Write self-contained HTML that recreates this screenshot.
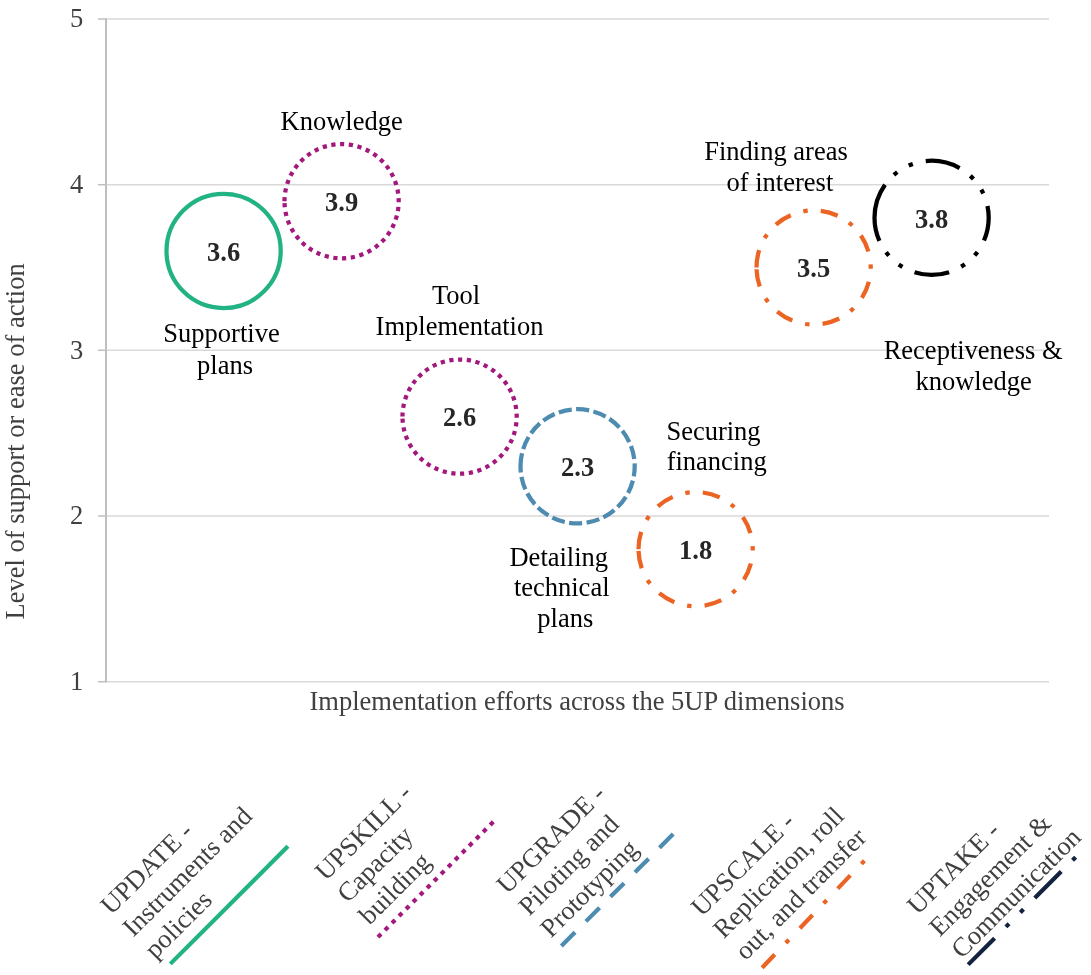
<!DOCTYPE html>
<html><head><meta charset="utf-8"><style>
html,body{margin:0;padding:0;background:#fff;width:1091px;height:975px;overflow:hidden;font-family:"Liberation Serif",serif;}
svg{display:block;will-change:transform;}
</style></head><body>
<svg width="1091" height="975" viewBox="0 0 1091 975">
<rect width="1091" height="975" fill="#fff"/>
<line x1="106" y1="19.0" x2="1049" y2="19.0" stroke="#d9d9d9" stroke-width="1.5"/>
<line x1="106" y1="184.7" x2="1049" y2="184.7" stroke="#d9d9d9" stroke-width="1.5"/>
<line x1="106" y1="350.3" x2="1049" y2="350.3" stroke="#d9d9d9" stroke-width="1.5"/>
<line x1="106" y1="516.0" x2="1049" y2="516.0" stroke="#d9d9d9" stroke-width="1.5"/>
<line x1="106" y1="681.7" x2="1049" y2="681.7" stroke="#d9d9d9" stroke-width="1.5"/>
<line x1="98" y1="19.0" x2="106" y2="19.0" stroke="#bfbfbf" stroke-width="1.5"/>
<line x1="98" y1="184.7" x2="106" y2="184.7" stroke="#bfbfbf" stroke-width="1.5"/>
<line x1="98" y1="350.3" x2="106" y2="350.3" stroke="#bfbfbf" stroke-width="1.5"/>
<line x1="98" y1="516.0" x2="106" y2="516.0" stroke="#bfbfbf" stroke-width="1.5"/>
<line x1="98" y1="681.7" x2="106" y2="681.7" stroke="#bfbfbf" stroke-width="1.5"/>
<line x1="106" y1="18.25" x2="106" y2="682.45" stroke="#bfbfbf" stroke-width="2"/>
<text x="76.5" y="27.3" text-anchor="middle" font-family="Liberation Serif" font-size="26.5" fill="#404040">5</text>
<text x="76.5" y="193.0" text-anchor="middle" font-family="Liberation Serif" font-size="26.5" fill="#404040">4</text>
<text x="76.5" y="358.6" text-anchor="middle" font-family="Liberation Serif" font-size="26.5" fill="#404040">3</text>
<text x="76.5" y="524.3" text-anchor="middle" font-family="Liberation Serif" font-size="26.5" fill="#404040">2</text>
<text x="76.5" y="690.0" text-anchor="middle" font-family="Liberation Serif" font-size="26.5" fill="#404040">1</text>
<text x="309.5" y="709.8" font-family="Liberation Serif" font-size="26.5" fill="#404040">Implementation efforts across the 5UP dimensions</text>
<text transform="translate(24.1,619.5) rotate(-90)" x="0" y="0" font-family="Liberation Serif" font-size="26.5" fill="#404040">Level of support or ease of action</text>
<circle cx="223.6" cy="250.945" r="57.1" fill="none" stroke="#22b384" stroke-width="4.25" transform="rotate(180 223.6 250.945)"/>
<text x="223.6" y="260.645" text-anchor="middle" font-family="Liberation Serif" font-weight="bold" font-size="26.5" fill="#262626">3.6</text>
<circle cx="341.6" cy="201.2425" r="57.1" fill="none" stroke="#a3187c" stroke-width="4.25" stroke-dasharray="4.2 4.6" transform="rotate(180 341.6 201.2425)"/>
<text x="341.6" y="210.9425" text-anchor="middle" font-family="Liberation Serif" font-weight="bold" font-size="26.5" fill="#262626">3.9</text>
<circle cx="459.6" cy="416.62" r="57.1" fill="none" stroke="#a3187c" stroke-width="4.25" stroke-dasharray="4.2 4.6" transform="rotate(180 459.6 416.62)"/>
<text x="459.6" y="426.32" text-anchor="middle" font-family="Liberation Serif" font-weight="bold" font-size="26.5" fill="#262626">2.6</text>
<circle cx="577.6" cy="466.32250000000005" r="57.1" fill="none" stroke="#4e8bb0" stroke-width="4.25" stroke-dasharray="13.2 4.4" transform="rotate(180 577.6 466.32250000000005)"/>
<text x="577.6" y="476.02250000000004" text-anchor="middle" font-family="Liberation Serif" font-weight="bold" font-size="26.5" fill="#262626">2.3</text>
<circle cx="695.6" cy="549.1600000000001" r="57.1" fill="none" stroke="#ec6424" stroke-width="4.25" stroke-dasharray="17.6 13.2 4.4 13.2" transform="rotate(180 695.6 549.1600000000001)"/>
<text x="695.6" y="558.8600000000001" text-anchor="middle" font-family="Liberation Serif" font-weight="bold" font-size="26.5" fill="#262626">1.8</text>
<circle cx="813.6" cy="267.51250000000005" r="57.1" fill="none" stroke="#ec6424" stroke-width="4.25" stroke-dasharray="17.6 13.2 4.4 13.2" transform="rotate(180 813.6 267.51250000000005)"/>
<text x="813.6" y="277.21250000000003" text-anchor="middle" font-family="Liberation Serif" font-weight="bold" font-size="26.5" fill="#262626">3.5</text>
<circle cx="931.6" cy="217.81000000000006" r="57.1" fill="none" stroke="#000000" stroke-width="4.25" stroke-dasharray="35.2 13.2 4.4 13.2 4.4 13.2" transform="rotate(180 931.6 217.81000000000006)"/>
<text x="931.6" y="227.51000000000005" text-anchor="middle" font-family="Liberation Serif" font-weight="bold" font-size="26.5" fill="#262626">3.8</text>
<text x="341.6" y="130.3" text-anchor="middle" font-family="Liberation Serif" font-size="26.5" fill="#000">Knowledge</text>
<text x="221.5" y="342.3" text-anchor="middle" font-family="Liberation Serif" font-size="26.5" fill="#000">Supportive</text>
<text x="225" y="374" text-anchor="middle" font-family="Liberation Serif" font-size="26.5" fill="#000">plans</text>
<text x="456.1" y="304.4" text-anchor="middle" font-family="Liberation Serif" font-size="26.5" fill="#000">Tool</text>
<text x="459.5" y="334.6" text-anchor="middle" font-family="Liberation Serif" font-size="26.5" fill="#000">Implementation</text>
<text x="776" y="160.1" text-anchor="middle" font-family="Liberation Serif" font-size="26.5" fill="#000">Finding areas</text>
<text x="779.9" y="190.5" text-anchor="middle" font-family="Liberation Serif" font-size="26.5" fill="#000">of interest</text>
<text x="973.1" y="359" text-anchor="middle" font-family="Liberation Serif" font-size="26.5" fill="#000">Receptiveness &amp;</text>
<text x="973.6" y="389.6" text-anchor="middle" font-family="Liberation Serif" font-size="26.5" fill="#000">knowledge</text>
<text x="713.5" y="439.5" text-anchor="middle" font-family="Liberation Serif" font-size="26.5" fill="#000">Securing</text>
<text x="716.7" y="470.3" text-anchor="middle" font-family="Liberation Serif" font-size="26.5" fill="#000">financing</text>
<text x="558.8" y="566" text-anchor="middle" font-family="Liberation Serif" font-size="26.5" fill="#000">Detailing</text>
<text x="561.7" y="596.3" text-anchor="middle" font-family="Liberation Serif" font-size="26.5" fill="#000">technical</text>
<text x="565.3" y="627.4" text-anchor="middle" font-family="Liberation Serif" font-size="26.5" fill="#000">plans</text>
<g transform="translate(111.37,915.84) rotate(-45)">
<text x="0" y="0" font-family="Liberation Serif" font-size="26.5" fill="#404040">UPDATE -</text>
<text x="0" y="31" font-family="Liberation Serif" font-size="26.5" fill="#404040">Instruments and</text>
<text x="0" y="62" font-family="Liberation Serif" font-size="26.5" fill="#404040">policies</text>
</g>
<line x1="170.34" y1="963.86" x2="287.93" y2="846.27" stroke="#22b384" stroke-width="4.2"/>
<g transform="translate(325.76,881.83) rotate(-45)">
<text x="0" y="0" font-family="Liberation Serif" font-size="26.5" fill="#404040">UPSKILL -</text>
<text x="0" y="31" font-family="Liberation Serif" font-size="26.5" fill="#404040">Capacity</text>
<text x="0" y="62" font-family="Liberation Serif" font-size="26.5" fill="#404040">building</text>
</g>
<line x1="377.95" y1="937.13" x2="493.35" y2="821.73" stroke="#a3187c" stroke-width="4.2" stroke-dasharray="4.4 5.52"/>
<g transform="translate(507.28,894.91) rotate(-45)">
<text x="0" y="0" font-family="Liberation Serif" font-size="26.5" fill="#404040">UPGRADE -</text>
<text x="0" y="31" font-family="Liberation Serif" font-size="26.5" fill="#404040">Piloting and</text>
<text x="0" y="62" font-family="Liberation Serif" font-size="26.5" fill="#404040">Prototyping</text>
</g>
<line x1="561.37" y1="945.90" x2="673.17" y2="834.10" stroke="#4e8bb0" stroke-width="4.2" stroke-dasharray="19.3 15.4"/>
<g transform="translate(701.80,917.47) rotate(-45)">
<text x="0" y="0" font-family="Liberation Serif" font-size="26.5" fill="#404040">UPSCALE -</text>
<text x="0" y="31" font-family="Liberation Serif" font-size="26.5" fill="#404040">Replication, roll</text>
<text x="0" y="62" font-family="Liberation Serif" font-size="26.5" fill="#404040">out, and transfer</text>
</g>
<line x1="762.12" y1="967.75" x2="864.44" y2="860.67" stroke="#ec6424" stroke-width="4.2" stroke-dasharray="18.3 16 4.4 16"/>
<g transform="translate(917.82,915.70) rotate(-45)">
<text x="0" y="0" font-family="Liberation Serif" font-size="26.5" fill="#404040">UPTAKE -</text>
<text x="0" y="31" font-family="Liberation Serif" font-size="26.5" fill="#404040">Engagement &amp;</text>
<text x="0" y="62" font-family="Liberation Serif" font-size="26.5" fill="#404040">Communication</text>
</g>
<line x1="968.17" y1="964.64" x2="1078.48" y2="854.33" stroke="#13233f" stroke-width="4.2" stroke-dasharray="37.4 16 4.4 16 4.4 16"/>
</svg>
</body></html>
